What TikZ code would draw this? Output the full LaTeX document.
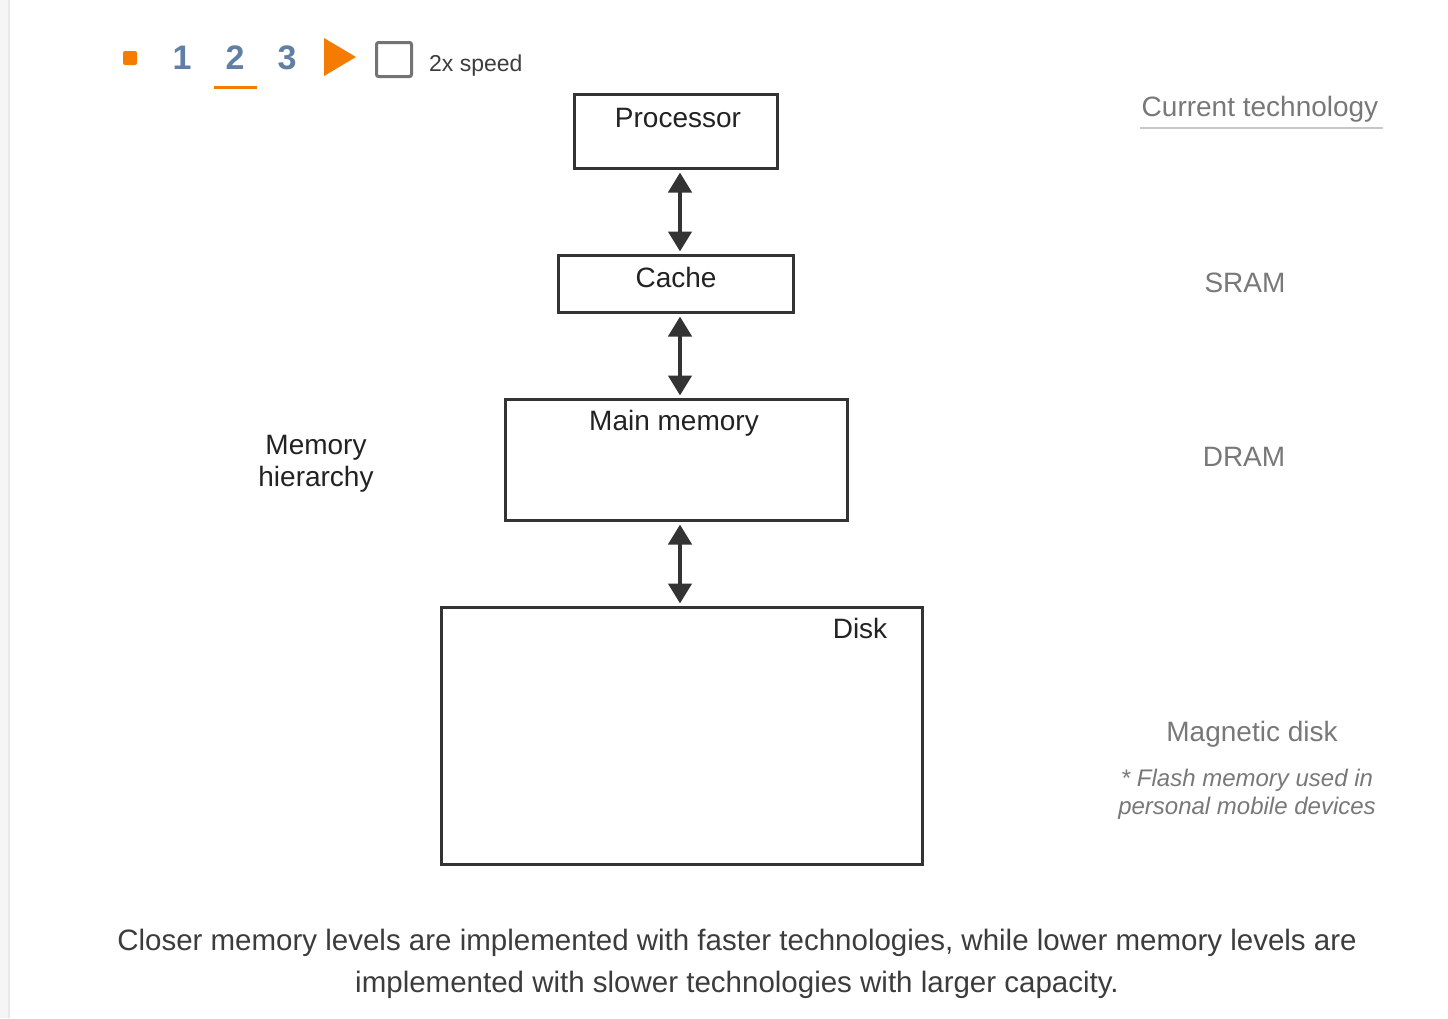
\documentclass[tikz,border=0pt]{standalone}
\usepackage{fontspec}
\setmainfont{Liberation Sans}
\usetikzlibrary{arrows.meta}
\definecolor{orng}{RGB}{245,124,0}
\definecolor{stblue}{RGB}{96,127,163}
\definecolor{boxc}{RGB}{51,51,51}
\definecolor{txtc}{RGB}{34,34,34}
\definecolor{techc}{RGB}{120,120,120}
\definecolor{capc}{RGB}{60,60,60}
\tikzset{
  membox/.style={draw=boxc, line width=3pt, inner sep=0pt, outer sep=0pt},
  boxlabel/.style={text=txtc, font=\fontsize{28}{32}\selectfont, inner sep=0pt},
  techlabel/.style={text=techc, font=\fontsize{28}{32}\selectfont, inner sep=0pt},
  arr/.style={{Triangle[length=20pt,width=23pt]}-{Triangle[length=20pt,width=23pt]}, draw=boxc, line width=4.5pt, shorten <=4pt, shorten >=4pt},
  digit/.style={text=stblue, font=\fontsize{34}{36}\selectfont\bfseries, inner sep=0pt},
}
\begin{document}
\begin{tikzpicture}[x=1pt,y=-1pt]
\useasboundingbox (0,0) rectangle (1448,1018);
% left shadow
\fill[black!4] (0,0) rectangle (9,1018);
\fill[black!9] (8,0) rectangle (10,1018);
% controls
\fill[orng, rounded corners=2pt] (123,51) rectangle (137,65);
\node[digit] (d1) at (182,58) {1};
\node[digit] (d2) at (235,58) {2};
\node[digit] (d3) at (287,58) {3};
\fill[orng] (214,86) rectangle (257,89);
\fill[orng] (324,38) -- (356,57) -- (324,76) -- cycle;
\draw[black!55, line width=3pt, rounded corners=2pt] (376.5,42.5) rectangle (411.5,76.5);
\node[text=capc, font=\fontsize{23}{26}\selectfont, anchor=west, inner sep=0pt] (spd) at (429,66) {2x speed};
% boxes
\node[membox, minimum width=202.5pt, minimum height=74pt] (proc) at (675.75,131.5) {};
\node[membox, minimum width=234.5pt, minimum height=57pt] (cache) at (675.75,284) {};
\node[membox, minimum width=341.5pt, minimum height=121pt] (main) at (676.25,460) {};
\node[membox, minimum width=481pt, minimum height=257pt] (disk) at (682,736) {};
\node[boxlabel] (proct) at (678,118) {Processor};
\node[boxlabel] (cachet) at (676,277) {Cache};
\node[boxlabel] (maint) at (674,423) {Main memory};
\node[boxlabel] (diskt) at (860,628) {Disk};
% arrows
\coordinate (ax) at (680,0);
\draw[arr] (proc.south -| ax) -- (cache.north -| ax);
\draw[arr] (cache.south -| ax) -- (main.north -| ax);
\draw[arr] (main.south -| ax) -- (disk.north -| ax);
% hierarchy label
\node[boxlabel, align=center, font=\fontsize{28}{32}\selectfont] (hier) at (316,464) {Memory\\hierarchy};
% technology
\node[techlabel] (curt) at (1260,109) {Current technology};
\draw[black!22, line width=2pt] (1140,128) -- (1383,128);
\node[techlabel] (sram) at (1245,283) {SRAM};
\node[techlabel] (dram) at (1244,457) {DRAM};
\node[techlabel] (magd) at (1252,734) {Magnetic disk};
\node[text=techc, font=\fontsize{24}{28}\selectfont\itshape, align=center, inner sep=0pt] (flash) at (1247,794) {* Flash memory used in\\personal mobile devices};
% caption
\node[text=capc, font=\fontsize{29.5}{42}\selectfont, align=center, inner sep=0pt] (cap) at (737,964) {Closer memory levels are implemented with faster technologies, while lower memory levels are\\implemented with slower technologies with larger capacity.};
\end{tikzpicture}
\end{document}
